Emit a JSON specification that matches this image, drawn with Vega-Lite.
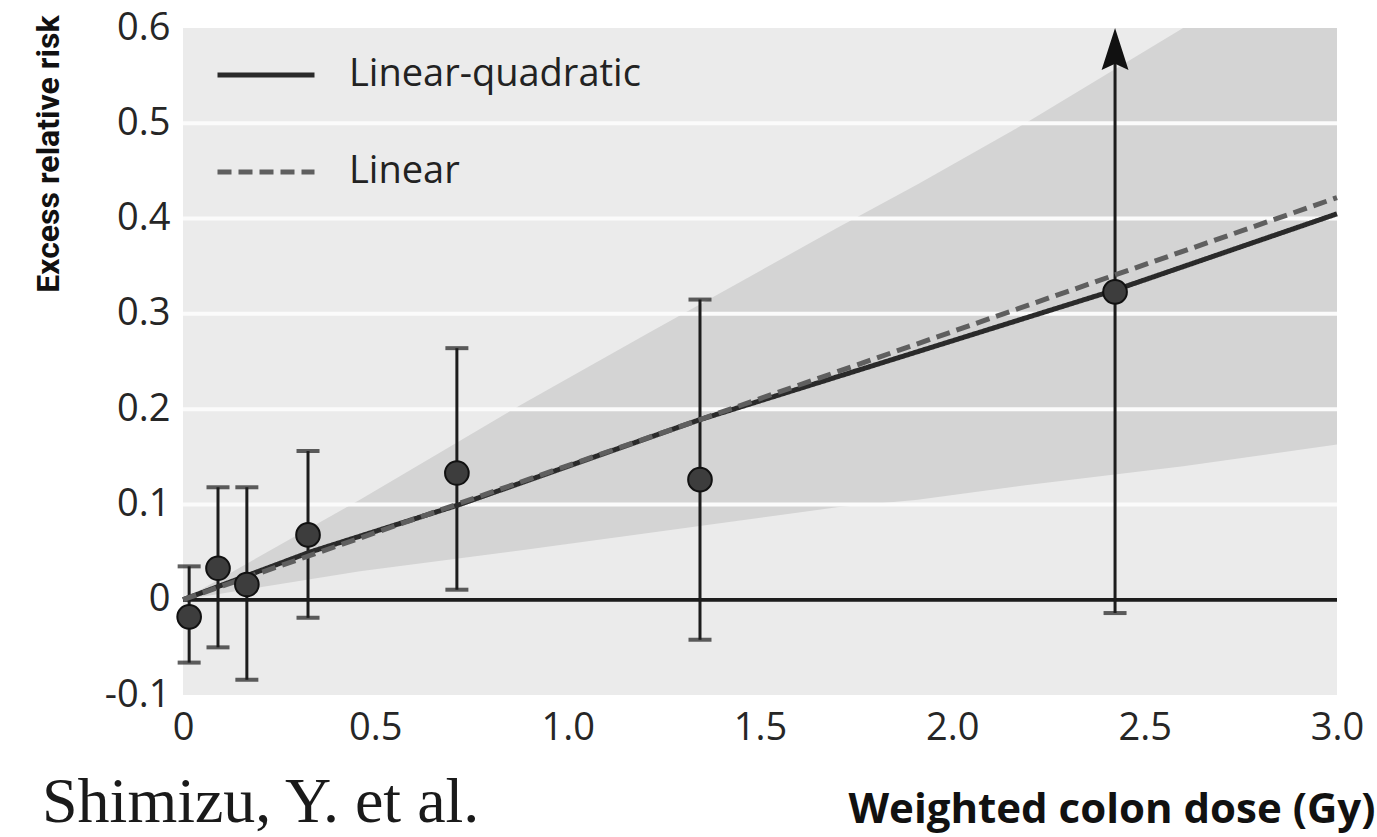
{
  "$schema": "https://vega.github.io/schema/vega-lite/v6.json",
  "width": 1154,
  "height": 667,
  "autosize": {"type": "none"},
  "padding": {"left": 183, "top": 28, "right": 40, "bottom": 142},
  "background": "#ffffff",
  "title": {
    "text": "Shimizu, Y. et al.",
    "orient": "bottom",
    "anchor": "start",
    "frame": "bounds",
    "font": "Liberation Serif",
    "fontSize": 64,
    "fontWeight": "normal",
    "color": "#1a1a1a",
    "baseline": "alphabetic",
    "offset": -8,
    "dx": 10
  },
  "config": {
    "view": {"fill": "#ebebeb", "stroke": null},
    "axis": {
      "grid": false,
      "ticks": false,
      "domain": false,
      "labelFont": "Open Sans",
      "labelFontSize": 38,
      "labelColor": "#262626"
    },
    "legend": {
      "orient": "none",
      "legendX": 32,
      "legendY": -4,
      "symbolType": "stroke",
      "symbolSize": 9409,
      "symbolStrokeWidth": 5,
      "labelFont": "Open Sans",
      "labelFontSize": 38,
      "labelColor": "#222222",
      "labelOffset": 32,
      "labelLimit": 0,
      "rowPadding": 27,
      "padding": 0
    }
  },
  "datasets": {
    "band": [
      {"dose": 0, "lower": 0, "upper": 0},
      {"dose": 0.46, "lower": 0.03, "upper": 0.105},
      {"dose": 0.88, "lower": 0.052, "upper": 0.205},
      {"dose": 1.21, "lower": 0.07, "upper": 0.28},
      {"dose": 1.7, "lower": 0.097, "upper": 0.39},
      {"dose": 1.91, "lower": 0.105, "upper": 0.436},
      {"dose": 2.19, "lower": 0.12, "upper": 0.5},
      {"dose": 2.6, "lower": 0.14, "upper": 0.6},
      {"dose": 3.0, "lower": 0.163, "upper": 0.6}
    ],
    "grid": [
      {"level": 0.1}, {"level": 0.2}, {"level": 0.3}, {"level": 0.4}, {"level": 0.5}
    ],
    "bars": [
      {"dose": 0.016, "err": -0.018, "lo": -0.066, "hi": 0.035, "open": false},
      {"dose": 0.091, "err": 0.033, "lo": -0.05, "hi": 0.118, "open": false},
      {"dose": 0.166, "err": 0.016, "lo": -0.084, "hi": 0.118, "open": false},
      {"dose": 0.325, "err": 0.068, "lo": -0.019, "hi": 0.156, "open": false},
      {"dose": 0.712, "err": 0.133, "lo": 0.0105, "hi": 0.264, "open": false},
      {"dose": 1.344, "err": 0.126, "lo": -0.042, "hi": 0.315, "open": false},
      {"dose": 2.423, "err": 0.323, "lo": -0.014, "hi": 0.578, "open": true}
    ],
    "fit": [
      {"model": "Linear-quadratic", "dose": 0, "err": 0},
      {"model": "Linear-quadratic", "dose": 0.33, "err": 0.05},
      {"model": "Linear-quadratic", "dose": 0.72, "err": 0.1},
      {"model": "Linear-quadratic", "dose": 1.344, "err": 0.189},
      {"model": "Linear-quadratic", "dose": 2.423, "err": 0.325},
      {"model": "Linear-quadratic", "dose": 3.0, "err": 0.405},
      {"model": "Linear", "dose": 0, "err": 0},
      {"model": "Linear", "dose": 3.0, "err": 0.422}
    ]
  },
  "layer": [
    {
      "data": {"name": "band"},
      "mark": {"type": "area", "color": "#d4d4d4", "opacity": 1},
      "encoding": {
        "x": {
          "field": "dose", "type": "quantitative",
          "scale": {"domain": [0, 3], "nice": false, "zero": false},
          "axis": {
            "values": [0, 0.5, 1, 1.5, 2, 2.5, 3],
            "labelExpr": "datum.value == 0 ? '0' : format(datum.value, '.1f')",
            "labelPadding": 14,
            "labelFlush": false,
            "title": "Weighted colon dose (Gy)",
            "titleFont": "Open Sans",
            "titleFontSize": 42,
            "titleFontWeight": "bold",
            "titleColor": "#111111",
            "titleAnchor": "end",
            "titleAlign": "right",
            "titleBaseline": "alphabetic",
            "titleX": 1192,
            "titleY": 127
          }
        },
        "y": {
          "field": "upper", "type": "quantitative",
          "scale": {"domain": [-0.1, 0.6], "nice": false, "zero": false},
          "axis": {
            "values": [-0.1, 0, 0.1, 0.2, 0.3, 0.4, 0.5, 0.6],
            "labelExpr": "datum.value == 0 ? '0' : (datum.value < 0 ? '-' + format(-datum.value, '.1f') : format(datum.value, '.1f'))",
            "labelPadding": 13,
            "labelFlush": false,
            "title": "Excess relative risk",
            "titleFont": "Roboto",
            "titleFontSize": 32,
            "titleFontWeight": "bold",
            "titleColor": "#111111",
            "titleAngle": -90,
            "titleAnchor": "end",
            "titleAlign": "right",
            "titleBaseline": "alphabetic",
            "titleX": -125,
            "titleY": -13
          }
        },
        "y2": {"field": "lower"}
      }
    },
    {
      "data": {"name": "grid"},
      "mark": {"type": "rule", "color": "#fbfbfb", "strokeWidth": 4},
      "encoding": {"y": {"field": "level", "type": "quantitative"}}
    },
    {
      "data": {"name": "grid"},
      "mark": {"type": "rule", "color": "#1c1c1c", "strokeWidth": 3},
      "encoding": {"y": {"datum": 0}}
    },
    {
      "data": {"name": "bars"},
      "mark": {"type": "rule", "color": "#1c1c1c", "strokeWidth": 3},
      "encoding": {
        "x": {"field": "dose", "type": "quantitative"},
        "y": {"field": "lo", "type": "quantitative"},
        "y2": {"field": "hi"}
      }
    },
    {
      "data": {"name": "bars"},
      "mark": {"type": "tick", "orient": "horizontal", "color": "#1c1c1c", "size": 23, "thickness": 4},
      "encoding": {
        "x": {"field": "dose", "type": "quantitative"},
        "y": {"field": "lo", "type": "quantitative"}
      }
    },
    {
      "data": {"name": "bars"},
      "transform": [{"filter": "!datum.open"}],
      "mark": {"type": "tick", "orient": "horizontal", "color": "#1c1c1c", "size": 23, "thickness": 4},
      "encoding": {
        "x": {"field": "dose", "type": "quantitative"},
        "y": {"field": "hi", "type": "quantitative"}
      }
    },
    {
      "data": {"name": "bars"},
      "transform": [{"filter": "datum.open"}],
      "mark": {"type": "point", "shape": "M0,-1L0.64,1L0,0.7L-0.64,1Z", "size": 1764, "filled": true, "color": "#111111", "opacity": 1},
      "encoding": {
        "x": {"field": "dose", "type": "quantitative"},
        "y": {"field": "hi", "type": "quantitative"}
      }
    },
    {
      "data": {"name": "fit"},
      "mark": {"type": "line", "strokeWidth": 5},
      "encoding": {
        "x": {"field": "dose", "type": "quantitative"},
        "y": {"field": "err", "type": "quantitative"},
        "color": {
          "field": "model", "type": "nominal",
          "scale": {"domain": ["Linear-quadratic", "Linear"], "range": ["#2a2a2a", "#5f5f5f"]},
          "legend": {"title": null}
        },
        "strokeDash": {
          "field": "model", "type": "nominal",
          "scale": {"domain": ["Linear-quadratic", "Linear"], "range": [[1, 0], [14, 7]]},
          "legend": {"title": null}
        },
        "order": {"field": "dose", "type": "quantitative"}
      }
    },
    {
      "data": {"name": "bars"},
      "mark": {"type": "point", "filled": true, "size": 560, "color": "#3d3d3d", "stroke": "#111111", "strokeWidth": 2, "opacity": 1},
      "encoding": {
        "x": {"field": "dose", "type": "quantitative"},
        "y": {"field": "err", "type": "quantitative"}
      }
    }
  ]
}
